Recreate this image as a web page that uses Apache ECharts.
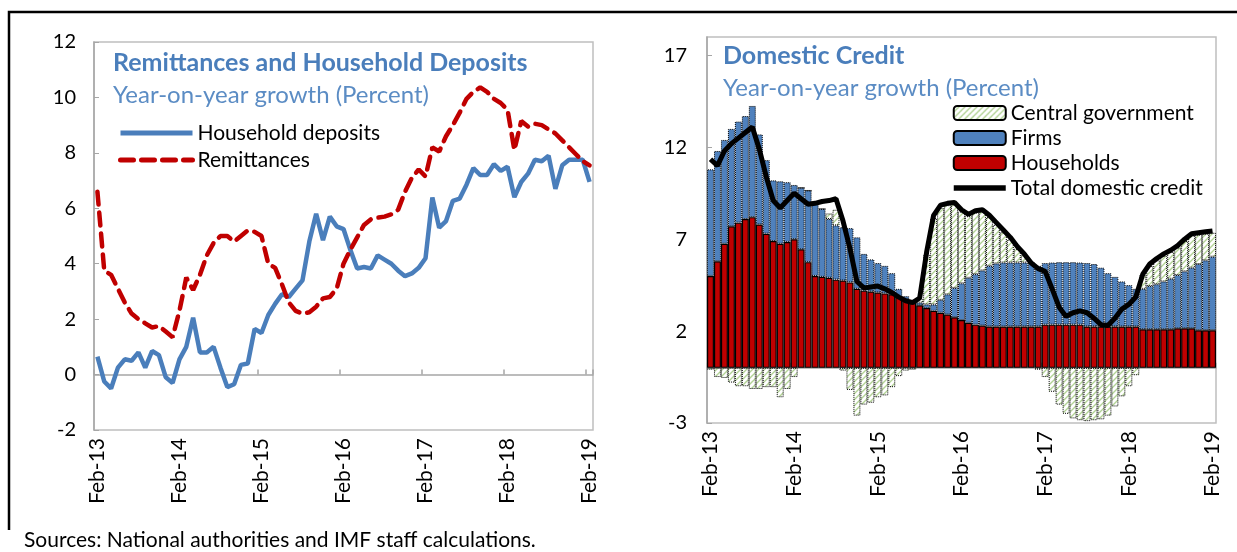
<!DOCTYPE html>
<html>
<head>
<meta charset="utf-8">
<script src="https://cdn.jsdelivr.net/npm/echarts@6/dist/echarts.min.js"></script>
<style>
  html, body { margin: 0; padding: 0; background: #fff; }
  #main { width: 1237px; height: 552px; }
</style>
</head>
<body>
<div id="main"></div>
<script>
  // categories: monthly, Feb-13 .. Feb-19
  const monthNames = ['Jan', 'Feb', 'Mar', 'Apr', 'May', 'Jun', 'Jul', 'Aug', 'Sep', 'Oct', 'Nov', 'Dec']
  const categories = []
  for (let y = 13; y <= 19; y++) {
    for (let m = 0; m < 12; m++) {
      if ((y === 13 && m < 1) || (y === 19 && m > 1)) continue
      categories.push(monthNames[m] + '-' + y)
    }
  }

  // left panel (percent, y/y)
  const householdDeposits = [
    0.65, -0.25, -0.5, 0.25, 0.55, 0.5, 0.8, 0.25, 0.85, 0.7, -0.1, -0.3,
    0.55, 1.0, 2.05, 0.8, 0.8, 1.0, 0.25, -0.45, -0.35, 0.35, 0.4, 1.65,
    1.5, 2.15, 2.55, 2.9, 2.8, 3.1, 3.4, 4.8, 5.8, 4.85, 5.7, 5.35,
    5.25, 4.5, 3.83, 3.88, 3.83, 4.3, 4.15, 4.0, 3.75, 3.55, 3.65, 3.85,
    4.2, 6.39, 5.3, 5.54, 6.27, 6.35, 6.85, 7.45, 7.2, 7.2, 7.59, 7.35,
    7.5, 6.4, 6.95, 7.25, 7.75, 7.7, 7.9, 6.7, 7.55, 7.75, 7.75, 7.75,
    6.95
  ]
  const remittances = [
    6.6, 3.75, 3.6, 3.1, 2.6, 2.2, 2.0, 1.85, 1.7, 1.75, 1.55, 1.35,
    2.3, 3.5, 3.05, 3.6, 4.3, 4.75, 5.0, 5.0, 4.8, 5.0, 5.2, 5.15,
    5.0, 4.0, 3.85, 3.25, 2.6, 2.3, 2.2, 2.25, 2.45, 2.75, 2.8, 3.1,
    4.0, 4.5, 4.95, 5.4, 5.6, 5.66, 5.7, 5.78, 5.95, 6.6, 7.1, 7.4,
    7.15, 8.2, 8.05, 8.6, 9.0, 9.45, 9.95, 10.2, 10.36, 10.2, 9.95, 9.8,
    9.55, 8.1, 9.15, 8.95, 9.05, 9.0, 8.85, 8.7, 8.45, 8.2, 7.95, 7.7,
    7.55
  ]

  // right panel: contributions (percentage points)
  const households = [
    5.0, 5.8, 6.75, 7.7, 7.9, 8.1, 8.2, 7.8, 7.3, 6.9, 6.75, 6.85,
    7.0, 6.45, 5.75, 5.0, 4.95, 4.9, 4.8, 4.75, 4.65, 4.3, 4.2, 4.15,
    4.1, 4.05, 4.0, 3.85, 3.7, 3.55, 3.4, 3.25, 3.1, 3.0, 2.9, 2.75,
    2.6, 2.45, 2.35, 2.3, 2.25, 2.25, 2.25, 2.25, 2.25, 2.25, 2.25, 2.25,
    2.35, 2.35, 2.35, 2.35, 2.35, 2.35, 2.25, 2.25, 2.25, 2.25, 2.25, 2.25,
    2.25, 2.25, 2.1, 2.1, 2.1, 2.1, 2.1, 2.15, 2.15, 2.15, 2.05, 2.05,
    2.05
  ]
  const firms = [
    5.8, 6.0, 5.65, 5.3, 5.5, 5.6, 6.05, 4.9, 4.0, 3.3, 3.4, 3.25,
    2.95, 3.35, 3.9, 4.0, 3.7, 3.2, 2.95, 2.9, 2.95, 2.8, 2.0, 1.75,
    1.6, 1.5, 1.15, 0.45, 0.2, 0.15, 0.15, 0.2, 0.35, 0.7, 1.1, 1.6,
    2.0, 2.45, 2.75, 3.0, 3.3, 3.43, 3.48, 3.48, 3.48, 3.48, 3.45, 3.3,
    3.35, 3.38, 3.4, 3.4, 3.4, 3.38, 3.45, 3.4, 3.2, 2.9, 2.7, 2.45,
    2.25, 2.05, 2.2, 2.35, 2.45, 2.6, 2.75, 2.9, 3.1, 3.3, 3.6, 3.8,
    4.0
  ]
  const centralGov = [
    -0.1, -0.5, -0.55, -0.8, -1.0, -1.0, -1.15, -1.15, -1.05, -1.05, -1.6, -1.15,
    -0.5, 0, 0, 0, 0, 0.3, 0.85, -0.15, -1.2, -2.6, -2.0, -1.9,
    -1.6, -1.5, -1.05, -0.45, -0.15, -0.1, 0.2, 2.7, 4.7, 5.0, 4.85, 4.55,
    3.9, 3.35, 3.35, 3.2, 2.65, 2.1, 1.65, 1.25, 0.75, 0.4, 0, -0.1,
    -0.5, -1.3, -2.0, -2.5, -2.75, -2.85, -2.9, -2.85, -2.8, -2.6, -2.1, -1.55,
    -1.0, -0.4, 0.75, 1.1, 1.3, 1.4, 1.45, 1.5, 1.65, 1.75, 1.6, 1.45,
    1.3
  ]
  const totalCredit = [
    11.35, 11.0, 11.8, 12.2, 12.5, 12.8, 13.1, 11.9, 10.4, 9.1, 8.7, 9.1,
    9.5, 9.2, 8.9, 8.95, 9.05, 9.1, 9.2, 8.0, 6.5, 4.7, 4.35, 4.4,
    4.45, 4.3, 4.1, 3.85, 3.65, 3.55, 3.8, 6.3, 8.3, 8.85, 8.95, 9.0,
    8.6, 8.35, 8.55, 8.6, 8.3, 7.9, 7.5, 7.1, 6.6, 6.2, 5.7, 5.4,
    5.25, 4.3, 3.3, 2.8, 3.0, 3.1, 3.0, 2.7, 2.35, 2.3, 2.7, 3.2,
    3.45, 3.85, 5.1, 5.65, 5.95, 6.2, 6.4, 6.65, 7.0, 7.3, 7.35, 7.4,
    7.45
  ]

  const BLUE = '#4A7EBB'
  const RED = '#C00000'
  const AXIS_GREY = '#A6A6A6'
  const FONT = 'Lato'

  // hatched fill for central government
  const pat = document.createElement('canvas')
  pat.width = 6
  pat.height = 6
  const pctx = pat.getContext('2d')
  pctx.fillStyle = '#ffffff'
  pctx.fillRect(0, 0, 6, 6)
  pctx.strokeStyle = '#B3D396'
  pctx.lineWidth = 1.4
  pctx.beginPath()
  pctx.moveTo(0, 6); pctx.lineTo(6, 0)
  pctx.moveTo(-1, 1); pctx.lineTo(1, -1)
  pctx.moveTo(5, 7); pctx.lineTo(7, 5)
  pctx.stroke()

  const chart = echarts.init(document.getElementById('main'))

  const zeroAxis = (grid) => ({
    gridIndex: grid,
    type: 'category',
    data: categories,
    boundaryGap: true,
    axisLine: { onZero: true, lineStyle: { color: AXIS_GREY, width: 1.5 } },
    axisTick: { show: true, inside: true, interval: 11, length: 5, lineStyle: { color: AXIS_GREY, width: 1.5 } },
    axisLabel: { show: false },
    splitLine: { show: false }
  })
  const labelAxis = (grid) => ({
    gridIndex: grid,
    type: 'category',
    data: categories,
    boundaryGap: true,
    position: 'bottom',
    axisLine: { show: false, onZero: false },
    axisTick: { show: false },
    axisLabel: { interval: 11, rotate: 90, fontSize: 21, color: '#000', margin: 8, fontFamily: FONT },
    splitLine: { show: false }
  })

  const hideSymbol = { opacity: 0 }

  chart.setOption({
    animation: false,
    textStyle: { fontFamily: FONT },
    title: [
      { text: 'Remittances and Household Deposits', left: 108, top: 45,
        textStyle: { fontSize: 25, fontWeight: 'bold', color: BLUE, fontFamily: FONT } },
      { text: 'Year-on-year growth (Percent)', left: 108, top: 78,
        textStyle: { fontSize: 24, fontWeight: 'normal', color: '#5B8CC4', fontFamily: FONT } },
      { text: 'Domestic Credit', left: 718, top: 38,
        textStyle: { fontSize: 25, fontWeight: 'bold', color: BLUE, fontFamily: FONT } },
      { text: 'Year-on-year growth (Percent)', left: 718, top: 71,
        textStyle: { fontSize: 24, fontWeight: 'normal', color: '#5B8CC4', fontFamily: FONT } }
    ],
    legend: [
      { data: [
          { name: 'Household deposits', itemStyle: hideSymbol },
          { name: 'Remittances', itemStyle: hideSymbol }
        ],
        orient: 'vertical', left: 118, top: 122, padding: 0,
        itemWidth: 72, itemHeight: 14, itemGap: 5,
        lineStyle: { width: 5 },
        textStyle: { fontSize: 21, color: '#000', fontFamily: FONT, lineHeight: 22 } },
      { data: [
          'Central government', 'Firms', 'Households',
          { name: 'Total domestic credit', itemStyle: hideSymbol }
        ],
        orient: 'vertical', left: 951, top: 102, padding: 0,
        itemWidth: 52, itemHeight: 14, itemGap: 3,
        lineStyle: { width: 5.5 },
        textStyle: { fontSize: 21, color: '#000', fontFamily: FONT, lineHeight: 22 } }
    ],
    grid: [
      { left: 94, top: 42, width: 499, height: 388, show: true, borderColor: '#BFBFBF', borderWidth: 1.5, outerBoundsMode: 'none' },
      { left: 707, top: 37, width: 509, height: 386, show: true, borderColor: '#BFBFBF', borderWidth: 1.5, outerBoundsMode: 'none' }
    ],
    xAxis: [zeroAxis(0), labelAxis(0), zeroAxis(1), labelAxis(1)],
    yAxis: [
      { gridIndex: 0, type: 'value', min: -2, max: 12, interval: 2,
        axisLine: { show: true, lineStyle: { color: AXIS_GREY, width: 1.5 } },
        axisTick: { show: true, inside: true, length: 5, lineStyle: { color: AXIS_GREY } },
        axisLabel: { fontSize: 20, color: '#000', margin: 18, fontFamily: FONT },
        splitLine: { show: false } },
      { gridIndex: 1, type: 'value', min: -3, max: 18, interval: 5,
        axisLine: { show: true, lineStyle: { color: AXIS_GREY, width: 1.5 } },
        axisTick: { show: true, inside: true, length: 5, lineStyle: { color: AXIS_GREY } },
        axisLabel: { fontSize: 20, color: '#000', margin: 20, showMaxLabel: false, fontFamily: FONT },
        splitLine: { show: false } }
    ],
    series: [
      { name: 'Household deposits', type: 'line', xAxisIndex: 0, yAxisIndex: 0,
        data: householdDeposits, symbol: 'none', z: 3,
        itemStyle: { color: BLUE },
        lineStyle: { color: BLUE, width: 4.5 } },
      { name: 'Remittances', type: 'line', xAxisIndex: 0, yAxisIndex: 0,
        data: remittances, symbol: 'none', z: 4,
        itemStyle: { color: RED },
        lineStyle: { color: RED, width: 4.5, type: [13, 8], cap: 'round' } },
      { name: 'Households', type: 'bar', xAxisIndex: 2, yAxisIndex: 1, stack: 'credit',
        data: households, barCategoryGap: '0%',
        itemStyle: { color: RED, borderColor: '#000', borderWidth: 1.2 } },
      { name: 'Firms', type: 'bar', xAxisIndex: 2, yAxisIndex: 1, stack: 'credit',
        data: firms, barCategoryGap: '0%',
        itemStyle: { color: '#4F81BD', borderColor: '#000', borderWidth: 1, borderType: 'dotted' } },
      { name: 'Central government', type: 'bar', xAxisIndex: 2, yAxisIndex: 1, stack: 'credit',
        data: centralGov, barCategoryGap: '0%',
        itemStyle: { color: { image: pat, repeat: 'repeat' }, borderColor: '#000', borderWidth: 1, borderType: 'dotted' } },
      { name: 'Total domestic credit', type: 'line', xAxisIndex: 2, yAxisIndex: 1,
        data: totalCredit, symbol: 'none', z: 5,
        itemStyle: { color: '#000' },
        lineStyle: { color: '#000', width: 5 } }
    ],
    graphic: [
      { type: 'polyline', shape: { points: [[9, 530], [9, 12], [1237, 12]] },
        style: { stroke: '#000', lineWidth: 2.5, fill: null } },
      { type: 'text', left: 24, top: 530,
        style: { text: 'Sources: National authorities and IMF staff calculations.', fontSize: 21, fill: '#000', fontFamily: FONT } }
    ]
  })
</script>
</body>
</html>
